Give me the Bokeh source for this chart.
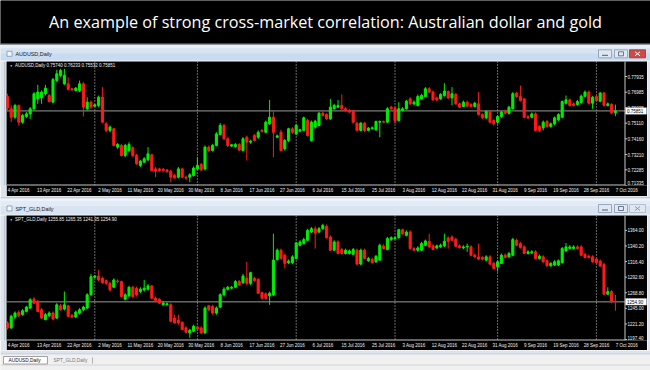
from bokeh.plotting import figure
from bokeh.layouts import column, row
from bokeh.models import Range1d, FixedTicker, Span, ColumnDataSource
from bokeh.core.properties import value
from bokeh.embed import file_html
from bokeh.resources import INLINE

TITLE = "An example of strong cross-market correlation: Australian dollar and gold"
DATE_LABELS = ["4 Apr 2016", "13 Apr 2016", "22 Apr 2016", "2 May 2016", "11 May 2016", "20 May 2016",
               "30 May 2016", "8 Jun 2016", "17 Jun 2016", "27 Jun 2016", "6 Jul 2016", "15 Jul 2016",
               "25 Jul 2016", "3 Aug 2016", "12 Aug 2016", "22 Aug 2016", "31 Aug 2016", "9 Sep 2016",
               "19 Sep 2016", "28 Sep 2016", "7 Oct 2016"]
DATE_BARS = [0, 8, 16, 24, 32, 40, 48, 56, 64, 72, 80, 88, 96, 104, 112, 120, 128, 136, 144, 152, 160]
MONTH_START_BARS = [23, 50, 76, 102, 129, 155]
AUD_TICKS = [0.77935, 0.76985, 0.76035, 0.75110, 0.74160, 0.73210, 0.72285, 0.71335]
GLD_TICKS = [1364.00, 1340.20, 1316.40, 1292.60, 1268.80, 1245.00, 1221.20, 1197.40]

AUD_O = [.7672, .7598, .7547, .7618, .7517, .7551, .7567, .7598, .7658, .7664,
         .7689, .7678, .7638, .7769, .7800, .7749, .7749, .7719, .7709, .7709,
         .7749, .7598, .7638, .7614, .7618, .7668, .7507, .7467, .7477, .7366,
         .7376, .7315, .7345, .7362, .7315, .7255, .7275, .7289, .7319, .7234,
         .7234, .7232, .7228, .7220, .7194, .7184, .7234, .7184, .7184, .7194,
         .7234, .7261, .7234, .7366, .7345, .7376, .7442, .7497, .7416, .7372,
         .7370, .7382, .7345, .7426, .7396, .7436, .7426, .7467, .7456, .7507,
         .7547, .7426, .7456, .7356, .7406, .7477, .7446, .7463, .7467, .7527,
         .7406, .7487, .7497, .7571, .7563, .7537, .7598, .7608, .7618, .7598,
         .7588, .7584, .7511, .7467, .7511, .7467, .7477, .7471, .7517, .7521,
         .7517, .7608, .7602, .7527, .7588, .7598, .7658, .7628, .7618, .7658,
         .7672, .7719, .7699, .7664, .7658, .7678, .7703, .7664, .7685, .7628,
         .7612, .7638, .7624, .7612, .7628, .7563, .7543, .7582, .7527, .7517,
         .7551, .7584, .7571, .7598, .7693, .7672, .7658, .7551, .7547, .7567,
         .7491, .7483, .7521, .7491, .7507, .7531, .7547, .7632, .7652, .7628,
         .7624, .7636, .7674, .7699, .7632, .7672, .7644, .7693, .7618, .7624,
         .75740]
AUD_H = [.7689, .7618, .7628, .7624, .7567, .7578, .7608, .7699, .7743, .7709,
         .7743, .7689, .7785, .7834, .7840, .7840, .7789, .7725, .7729, .7769,
         .7759, .7668, .7648, .7628, .7678, .7729, .7517, .7497, .7483, .7390,
         .7386, .7386, .7396, .7370, .7325, .7289, .7305, .7366, .7325, .7245,
         .7241, .7239, .7234, .7228, .7204, .7245, .7241, .7194, .7208, .7249,
         .7305, .7269, .7376, .7376, .7386, .7456, .7511, .7507, .7426, .7386,
         .7390, .7390, .7426, .7436, .7410, .7446, .7467, .7477, .7527, .7652,
         .7588, .7442, .7471, .7416, .7483, .7487, .7507, .7477, .7551, .7537,
         .7527, .7531, .7578, .7582, .7571, .7658, .7628, .7652, .7685, .7608,
         .7598, .7592, .7517, .7517, .7517, .7487, .7491, .7527, .7527, .7527,
         .7608, .7616, .7612, .7638, .7608, .7652, .7668, .7648, .7685, .7689,
         .7729, .7729, .7709, .7672, .7693, .7753, .7709, .7729, .7693, .7636,
         .7648, .7648, .7632, .7640, .7699, .7571, .7588, .7588, .7535, .7559,
         .7584, .7592, .7616, .7699, .7701, .7739, .7664, .7559, .7576, .7576,
         .7499, .7527, .7531, .7515, .7551, .7571, .7648, .7678, .7660, .7636,
         .7652, .7685, .7709, .7709, .7676, .7685, .7701, .7701, .7636, .7632,
         .76233]
AUD_L = [.7588, .7517, .7537, .7497, .7507, .7543, .7537, .7588, .7628, .7628,
         .7678, .7636, .7632, .7759, .7789, .7743, .7709, .7705, .7703, .7699,
         .7551, .7588, .7598, .7608, .7608, .7511, .7456, .7456, .7370, .7356,
         .7309, .7305, .7335, .7305, .7259, .7245, .7269, .7281, .7218, .7184,
         .7216, .7216, .7210, .7154, .7174, .7176, .7178, .7168, .7154, .7188,
         .7228, .7220, .7224, .7335, .7339, .7370, .7436, .7410, .7366, .7366,
         .7362, .7341, .7339, .7285, .7386, .7400, .7416, .7454, .7450, .7501,
         .7305, .7420, .7339, .7345, .7396, .7446, .7440, .7456, .7461, .7430,
         .7400, .7477, .7491, .7551, .7531, .7531, .7592, .7602, .7592, .7582,
         .7571, .7511, .7461, .7461, .7456, .7461, .7471, .7463, .7426, .7511,
         .7511, .7592, .7507, .7521, .7582, .7592, .7622, .7618, .7612, .7652,
         .7668, .7693, .7648, .7644, .7652, .7672, .7658, .7618, .7622, .7602,
         .7608, .7608, .7608, .7606, .7557, .7537, .7535, .7511, .7497, .7507,
         .7543, .7563, .7563, .7592, .7664, .7642, .7541, .7535, .7539, .7461,
         .7456, .7467, .7483, .7483, .7499, .7523, .7541, .7624, .7612, .7612,
         .7616, .7628, .7668, .7624, .7598, .7640, .7638, .7612, .7612, .7567,
         .75532]
AUD_C = [.7602, .7547, .7618, .7517, .7557, .7567, .7598, .7689, .7699, .7699,
         .7723, .7642, .7775, .7810, .7830, .7800, .7715, .7713, .7723, .7749,
         .7608, .7638, .7608, .7622, .7668, .7517, .7467, .7487, .7376, .7382,
         .7315, .7376, .7382, .7315, .7265, .7281, .7295, .7325, .7224, .7220,
         .7224, .7224, .7218, .7184, .7180, .7234, .7184, .7178, .7198, .7239,
         .7255, .7228, .7366, .7345, .7376, .7446, .7497, .7416, .7376, .7380,
         .7382, .7349, .7416, .7396, .7402, .7406, .7456, .7461, .7517, .7547,
         .7456, .7434, .7345, .7406, .7477, .7456, .7497, .7471, .7543, .7436,
         .7517, .7523, .7571, .7557, .7537, .7608, .7618, .7618, .7598, .7588,
         .7578, .7517, .7467, .7511, .7467, .7481, .7483, .7521, .7521, .7517,
         .7598, .7598, .7527, .7598, .7598, .7644, .7628, .7638, .7672, .7678,
         .7719, .7699, .7652, .7652, .7685, .7705, .7664, .7689, .7628, .7608,
         .7638, .7614, .7612, .7632, .7563, .7543, .7582, .7517, .7507, .7551,
         .7578, .7571, .7608, .7689, .7672, .7648, .7547, .7543, .7567, .7467,
         .7467, .7517, .7491, .7507, .7543, .7563, .7642, .7652, .7618, .7618,
         .7642, .7674, .7699, .7632, .7668, .7648, .7693, .7618, .7628, .7574,
         .75851]

GLD_O = [1222.7, 1215.1, 1231.8, 1238.8, 1235.3, 1240.3, 1245.4, 1259.0, 1255.5, 1242.8,
         1227.7, 1233.8, 1237.8, 1230.2, 1248.9, 1243.9, 1248.9, 1234.3, 1231.8, 1237.8,
         1242.8, 1245.4, 1265.6, 1292.3, 1294.3, 1290.8, 1287.3, 1283.2, 1277.2, 1286.8,
         1285.8, 1259.0, 1264.0, 1277.2, 1275.7, 1270.6, 1273.1, 1274.2, 1279.2, 1260.5,
         1259.0, 1250.4, 1250.4, 1250.4, 1230.2, 1226.7, 1223.7, 1215.1, 1207.5, 1210.0,
         1216.6, 1215.1, 1207.5, 1248.9, 1247.9, 1237.8, 1246.9, 1265.6, 1274.2, 1275.7,
         1277.2, 1285.8, 1284.2, 1290.8, 1283.2, 1290.8, 1289.3, 1269.1, 1267.1, 1264.0,
         1265.6, 1319.6, 1333.7, 1326.1, 1314.5, 1314.5, 1321.1, 1341.3, 1343.8, 1348.9,
         1361.5, 1366.5, 1361.5, 1366.5, 1370.0, 1353.9, 1333.7, 1346.3, 1334.7, 1328.7,
         1328.7, 1327.6, 1333.7, 1312.5, 1333.7, 1317.6, 1319.6, 1316.0, 1318.6, 1339.8,
         1334.7, 1349.9, 1351.4, 1352.9, 1365.0, 1356.4, 1361.5, 1336.2, 1333.7, 1333.7,
         1341.3, 1347.3, 1340.3, 1337.2, 1338.8, 1340.3, 1352.4, 1353.9, 1350.4, 1340.3,
         1337.2, 1338.8, 1338.8, 1326.1, 1323.6, 1322.6, 1318.6, 1323.6, 1313.5, 1308.5,
         1313.5, 1326.1, 1323.6, 1326.1, 1348.9, 1343.8, 1338.8, 1328.7, 1329.7, 1331.2,
         1321.1, 1323.6, 1317.6, 1310.0, 1311.0, 1311.0, 1314.5, 1332.7, 1336.2, 1336.2,
         1338.8, 1338.8, 1327.1, 1324.6, 1323.6, 1320.1, 1317.0, 1312.0, 1266.6, 1270.6,
         1255.85]
GLD_H = [1225.2, 1235.3, 1240.3, 1241.8, 1243.9, 1248.9, 1260.5, 1262.0, 1258.0, 1245.4,
         1237.8, 1240.3, 1240.3, 1252.9, 1251.9, 1270.6, 1250.4, 1236.8, 1241.8, 1245.4,
         1248.9, 1268.1, 1297.4, 1295.9, 1303.4, 1293.3, 1289.3, 1285.8, 1290.8, 1289.3,
         1287.3, 1268.1, 1279.2, 1279.2, 1278.2, 1277.2, 1288.3, 1282.2, 1280.7, 1263.0,
         1260.5, 1255.5, 1253.9, 1252.9, 1235.3, 1235.3, 1225.2, 1217.6, 1213.6, 1220.1,
         1218.6, 1217.6, 1247.9, 1250.4, 1250.4, 1247.9, 1268.1, 1277.2, 1279.2, 1279.2,
         1288.3, 1288.3, 1297.4, 1316.0, 1300.9, 1293.3, 1290.8, 1270.6, 1269.1, 1270.6,
         1358.9, 1336.2, 1336.2, 1328.7, 1319.6, 1326.1, 1346.3, 1348.9, 1352.9, 1366.5,
         1369.1, 1370.0, 1369.1, 1374.1, 1373.1, 1356.4, 1348.9, 1348.9, 1337.2, 1336.2,
         1334.7, 1337.2, 1336.2, 1336.2, 1336.2, 1323.6, 1322.6, 1326.1, 1343.8, 1342.8,
         1353.9, 1354.9, 1354.9, 1366.5, 1366.5, 1364.0, 1364.0, 1338.8, 1339.8, 1346.3,
         1349.9, 1358.9, 1342.8, 1342.3, 1343.8, 1358.9, 1354.9, 1356.4, 1352.9, 1342.8,
         1341.3, 1343.8, 1341.3, 1328.7, 1343.8, 1324.6, 1326.1, 1326.1, 1316.0, 1318.6,
         1328.7, 1328.7, 1331.2, 1352.4, 1351.4, 1346.3, 1341.3, 1333.7, 1333.7, 1333.7,
         1327.1, 1326.1, 1319.6, 1315.5, 1318.6, 1319.6, 1338.8, 1344.8, 1341.3, 1341.3,
         1341.3, 1341.3, 1329.7, 1327.1, 1326.1, 1322.6, 1319.6, 1314.5, 1277.2, 1273.1,
         1265.35]
GLD_L = [1212.6, 1213.6, 1228.7, 1231.8, 1233.8, 1238.8, 1243.9, 1251.9, 1238.8, 1228.7,
         1226.7, 1231.8, 1226.7, 1228.7, 1241.3, 1241.8, 1231.8, 1230.2, 1230.2, 1235.3,
         1240.3, 1243.9, 1264.0, 1290.8, 1286.8, 1282.2, 1280.7, 1270.6, 1275.7, 1283.2,
         1262.0, 1257.0, 1262.0, 1260.5, 1263.0, 1268.1, 1270.6, 1272.1, 1259.0, 1255.5,
         1251.9, 1248.9, 1248.9, 1223.7, 1221.6, 1220.1, 1211.6, 1206.5, 1200.0, 1208.5,
         1211.6, 1206.0, 1206.0, 1240.3, 1235.3, 1235.3, 1245.4, 1263.0, 1272.1, 1274.2,
         1275.7, 1279.2, 1282.2, 1280.7, 1280.7, 1285.8, 1267.1, 1258.0, 1258.0, 1250.4,
         1264.0, 1317.6, 1319.6, 1305.9, 1312.5, 1312.5, 1319.6, 1339.8, 1342.3, 1347.3,
         1359.9, 1336.2, 1359.9, 1365.0, 1351.4, 1332.7, 1332.7, 1327.6, 1327.1, 1327.1,
         1327.1, 1326.1, 1311.0, 1311.0, 1319.6, 1316.0, 1313.5, 1314.5, 1317.6, 1334.7,
         1333.7, 1347.8, 1349.9, 1351.4, 1357.4, 1354.9, 1334.7, 1332.2, 1331.2, 1332.2,
         1339.8, 1337.2, 1333.7, 1335.2, 1337.2, 1338.8, 1336.2, 1347.3, 1338.8, 1336.2,
         1335.2, 1331.2, 1324.6, 1322.1, 1318.6, 1318.6, 1317.0, 1311.0, 1304.4, 1300.9,
         1312.5, 1321.1, 1322.1, 1324.6, 1339.8, 1336.2, 1327.6, 1327.1, 1328.2, 1319.6,
         1319.6, 1314.5, 1308.5, 1308.5, 1309.5, 1309.5, 1313.5, 1331.2, 1334.7, 1334.7,
         1334.7, 1324.6, 1321.1, 1321.1, 1314.5, 1313.5, 1308.5, 1265.6, 1265.6, 1252.9,
         1241.35]
GLD_C = [1215.1, 1232.8, 1237.8, 1233.8, 1241.3, 1246.9, 1258.0, 1252.9, 1240.3, 1230.2,
         1235.3, 1237.8, 1228.7, 1250.4, 1242.8, 1250.4, 1232.8, 1231.8, 1239.3, 1242.8,
         1246.9, 1265.6, 1293.3, 1294.3, 1288.3, 1284.2, 1283.2, 1273.1, 1288.3, 1285.8,
         1263.0, 1265.6, 1277.2, 1263.0, 1265.6, 1274.2, 1275.7, 1279.2, 1260.5, 1257.0,
         1252.9, 1252.9, 1251.9, 1225.2, 1222.7, 1222.7, 1212.6, 1208.5, 1211.6, 1217.6,
         1213.6, 1207.5, 1245.4, 1242.8, 1237.8, 1245.4, 1265.6, 1274.2, 1277.2, 1277.2,
         1285.8, 1280.7, 1294.3, 1283.2, 1299.4, 1287.3, 1268.1, 1260.5, 1260.5, 1268.1,
         1318.6, 1333.7, 1321.1, 1313.5, 1317.0, 1323.6, 1344.8, 1346.3, 1349.9, 1364.0,
         1366.5, 1359.9, 1366.5, 1371.6, 1352.9, 1333.7, 1346.3, 1328.7, 1328.7, 1333.7,
         1332.7, 1334.7, 1312.5, 1333.7, 1321.1, 1321.1, 1314.5, 1324.6, 1341.3, 1336.2,
         1351.4, 1352.9, 1352.9, 1365.0, 1358.9, 1361.5, 1336.2, 1333.7, 1337.2, 1343.8,
         1347.8, 1338.8, 1334.7, 1340.3, 1341.3, 1347.3, 1347.3, 1348.9, 1339.8, 1337.8,
         1338.8, 1339.8, 1326.1, 1323.6, 1320.1, 1320.1, 1323.6, 1312.5, 1305.9, 1316.0,
         1326.1, 1322.6, 1328.7, 1349.9, 1341.3, 1337.8, 1328.7, 1331.2, 1331.2, 1321.1,
         1324.6, 1316.0, 1310.0, 1313.5, 1316.0, 1317.6, 1336.2, 1338.8, 1338.8, 1338.8,
         1336.2, 1326.1, 1322.6, 1322.6, 1316.0, 1314.5, 1309.5, 1266.6, 1270.6, 1255.5,
         1254.90]

W = 650
LEFT_W, MAIN_W, RIGHT_W = 6, 641, 3
SCALE_PX = 618          # where the price scale starts inside the chart panel
BAR_PX = 3.8
SMALL = "4.5px"
TINY = "Liberation Sans"
UP, DN = "#00ee00", "#ff1a1a"
FRAME = "#dbe3ec"


def chrome_fig(w, h, bg=FRAME):
    p = figure(width=w, height=h, x_range=Range1d(0, w), y_range=Range1d(h, 0),
               x_axis_type=None, y_axis_type=None, toolbar_location=None,
               output_backend="svg", min_border=0)
    p.xgrid.visible = False
    p.ygrid.visible = False
    p.outline_line_color = None
    p.background_fill_color = bg
    p.border_fill_color = bg
    return p


def bands(p, rows):
    p.quad(left=[r[0] for r in rows], right=[r[1] for r in rows],
           top=[r[2] for r in rows], bottom=[r[3] for r in rows],
           fill_color=[r[4] for r in rows], line_color=None)


def title_bar(h, top, mid, name, active):
    p = chrome_fig(W, h)
    if active:
        cols = ["#e6eef8", "#d5e3f3", "#c9dbf0", "#eef2f7"]
    else:
        cols = ["#eef3fa", "#e2ebf6", "#d8e4f2", "#eef2f7"]
    rows = []
    if top:
        rows.append((0, W, 0, top, "#c3ccd6"))
    rows += [(0, W, top, top + 3, cols[0]), (0, W, top + 3, top + 8, cols[1]),
             (0, W, top + 8, h - 1, cols[2]), (0, W, h - 1, h, cols[3])]
    bands(p, rows)
    p.quad(left=[6.5], right=[11.5], top=[mid - 2.5], bottom=[mid + 2.5], fill_color="#f4f8fc",
           line_color="#7f95b0", line_width=0.8)
    p.text(x=[15], y=[mid], text=[name], text_font=value(TINY), text_font_size=value("5.4px"),
           text_color="#1a1a1a", text_baseline="middle", text_align="left")
    bx = [(598, 611), (614, 627), (629, 645)]
    fills = ["#dfe7f1", "#dfe7f1", "#cd4a46" if active else "#dfe7f1"]
    edges = ["#8798b0", "#8798b0", "#9c3430" if active else "#a9b6c6"]
    p.quad(left=[b[0] for b in bx], right=[b[1] for b in bx],
           top=[mid - 4] * 3, bottom=[mid + 4] * 3, fill_color=fills, line_color=edges,
           line_width=0.8)
    gl = "#ffffff" if active else "#8a96a6"
    p.segment(x0=[601.5, 634.5, 634.5], y0=[mid + 1.5, mid - 2, mid + 2],
              x1=[607.5, 639.5, 639.5], y1=[mid + 1.5, mid + 2, mid - 2],
              line_color=["#4d5d73", gl, gl], line_width=1)
    p.quad(left=[618], right=[623], top=[mid - 2], bottom=[mid + 2], fill_color=None,
           line_color="#4d5d73", line_width=0.8)
    return p


def side_strip(h, w):
    p = chrome_fig(w, h)
    if w > 4:
        bands(p, [(0, 4, 0, h, FRAME), (4, 5, 0, h, "#9aa8b8"), (5, w, 0, h, "#f2f2f2")])
    return p


def chart(O, H, L, C, name, ticks, fmt, h, frame_h, ylo, yhi):
    n = len(O)
    xs = list(range(n))
    col = [UP if c >= o else DN for o, c in zip(O, C)]
    src = ColumnDataSource(dict(x=xs, h=H, l=L,
                                top=[max(o, c) for o, c in zip(O, C)],
                                bot=[min(o, c) for o, c in zip(O, C)], col=col))
    bottom = h - frame_h
    x0 = -0.9 / BAR_PX
    x1 = x0 + MAIN_W / BAR_PX
    px = lambda v: x0 + v / BAR_PX          # panel pixel -> bar axis
    dy = (yhi - ylo) / frame_h
    p = figure(width=MAIN_W, height=h, x_range=Range1d(x0, x1), y_range=Range1d(ylo, yhi),
               y_axis_type=None, toolbar_location=None, output_backend="svg",
               min_border_left=0, min_border_top=0, min_border_right=0,
               min_border_bottom=bottom)
    p.background_fill_color = "black"
    p.border_fill_color = "black"
    p.outline_line_color = None
    p.xgrid.visible = False
    p.ygrid.visible = False

    for b in MONTH_START_BARS:
        p.add_layout(Span(location=b, dimension="height", line_color="#d0d0d0",
                          line_dash="1 2", line_width=1, level="underlay"))
    xl = px(SCALE_PX + 0.5)
    # bid line at the last close
    p.segment(x0=[x0], y0=[C[-1]], x1=[xl], y1=[C[-1]], line_color="#9a9a9a", line_width=1)

    p.segment(x0="x", y0="h", x1="x", y1="l", line_color="col", line_width=1, source=src)
    p.vbar(x="x", top="top", bottom="bot", width=0.55, fill_color="col", line_color="col",
           line_width=1, source=src)

    # frame lines: bottom of the price area and the price scale line
    p.segment(x0=[x0, xl], y0=[ylo + 0.5 * dy, ylo], x1=[xl, xl], y1=[ylo + 0.5 * dy, yhi],
              line_color="#c8c8c8", line_width=1)
    # price scale: tick marks and labels
    p.segment(x0=[xl] * len(ticks), y0=ticks, x1=[px(SCALE_PX + 2.5)] * len(ticks), y1=ticks,
              line_color="#c8c8c8", line_width=1)
    inner = [t for t in ticks if t > ylo + 3 * dy]
    edge = [t for t in ticks if t <= ylo + 3 * dy]
    p.text(x=[px(SCALE_PX + 3)] * len(inner), y=inner, text=[fmt % t for t in inner],
           text_font=value(TINY), text_font_size=value(SMALL), text_color="#f0f0f0",
           text_baseline="middle", text_align="left")
    if edge:
        p.text(x=[px(SCALE_PX + 3)] * len(edge), y=edge, text=[fmt % t for t in edge],
               text_font=value(TINY), text_font_size=value(SMALL), text_color="#f0f0f0",
               text_baseline="bottom", text_align="left")
    # current price box
    p.rect(x=[px(SCALE_PX + 11.5)], y=[C[-1]], width=21, height=6.5, width_units="screen",
           height_units="screen", fill_color="white", line_color="#c0c0c0", line_width=0.5)
    p.text(x=[px(SCALE_PX + 2.5)], y=[C[-1]], text=[fmt % C[-1]], text_font=value(TINY),
           text_font_size=value(SMALL), text_color="black", text_baseline="middle",
           text_align="left")

    xa = p.xaxis[0]
    xa.ticker = FixedTicker(ticks=[b + 3 for b in DATE_BARS])
    xa.major_label_overrides = {b + 3: lab for b, lab in zip(DATE_BARS, DATE_LABELS)}
    xa.major_label_text_font = TINY
    xa.major_label_text_font_size = SMALL
    xa.major_label_text_color = "#f0f0f0"
    xa.major_label_standoff = 2
    xa.major_tick_out = 0
    xa.major_tick_in = 0
    xa.minor_tick_out = 0
    xa.minor_tick_in = 0
    xa.major_tick_line_color = None
    xa.minor_tick_line_color = None
    xa.axis_line_color = None

    header = name + "  " + " ".join(fmt % v for v in (O[-1], H[-1], L[-1], C[-1]))
    p.text(x=[px(3.2)], y=[yhi - 4.2 * dy], text=["\u25bc"], text_font=value(TINY),
           text_font_size=value("3px"), text_color="#e0e0e0", text_baseline="middle",
           text_align="left")
    p.text(x=[px(8.5)], y=[yhi - 4 * dy], text=[header], text_font=value(TINY),
           text_font_size=value(SMALL), text_color="#f0f0f0", text_baseline="middle",
           text_align="left")
    return row(side_strip(h, LEFT_W), p, side_strip(h, RIGHT_W), spacing=0)


t = chrome_fig(W, 45, "black")
bands(t, [(0, W, 0, 43, "black"), (0, W, 43, 44, "#8f8f8f"), (0, W, 44, 45, "#d5dbe2")])
t.text(x=[325], y=[21], text=[TITLE], text_font=value("Open Sans"), text_font_size=value("16.2px"),
       text_color="white", text_align="center", text_baseline="middle")

bar1 = title_bar(16, 0, 8.3, "AUDUSD,Daily", True)
c1 = chart(AUD_O, AUD_H, AUD_L, AUD_C, "AUDUSD,Daily", AUD_TICKS, "%.5f", 135, 124, 0.713349, 0.788433)
bar2 = title_bar(19, 2, 12.0, "SPT_GLD,Daily", False)
c2 = chart(GLD_O, GLD_H, GLD_L, GLD_C, "SPT_GLD,Daily", GLD_TICKS, "%.2f", 135, 126, 1195.9, 1386.72)

tb = chrome_fig(W, 20, "#f0f0f0")
bands(tb, [(0, W, 0, 3, FRAME), (0, W, 3, 4, "#b8c2ce"), (0, W, 4, 20, "#f0f0f0"),
           (0, W, 14, 15, "#d4d4d4")])
tb.quad(left=[3], right=[47], top=[6], bottom=[13.5], fill_color="white", line_color="#8c8c8c",
        line_width=0.8)
tb.segment(x0=[92], y0=[7], x1=[92], y1=[13], line_color="#a0a0a0", line_width=0.8)
tb.text(x=[8, 53], y=[10.2, 10.2], text=["AUDUSD,Daily", "SPT_GLD,Daily"], text_font=value(TINY),
        text_font_size=value("4.8px"), text_color=["#101010", "#7a7a7a"], text_baseline="middle",
        text_align="left")

layout = column(t, bar1, c1, bar2, c2, tb, spacing=0)
open("out.html", "w").write(file_html(layout, INLINE))
